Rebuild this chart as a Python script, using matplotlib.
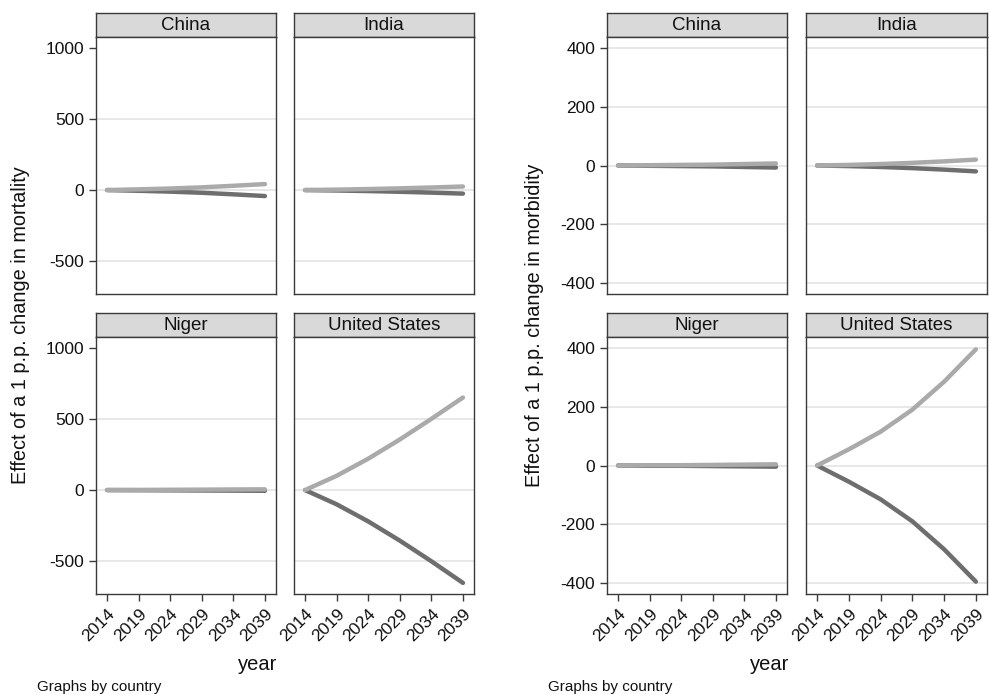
import matplotlib
matplotlib.use("Agg")
from matplotlib import pyplot as plt

plt.rcParams["font.family"] = ["Liberation Sans", "DejaVu Sans"]

W, H = 991, 695

years = [2014, 2019, 2024, 2029, 2034, 2039]
countries = ["China", "India", "Niger", "United States"]

# effect of a 1 p.p. change in mortality (upper = light, lower = dark)
mort_up = {
    "China": [0, 5, 11, 19, 30, 42],
    "India": [0, 3, 7, 12, 18, 25],
    "Niger": [0, 1, 2, 3, 4, 5],
    "United States": [0, 100, 220, 355, 500, 650],
}
mort_down = {
    "China": [0, -5, -11, -19, -30, -42],
    "India": [0, -3, -7, -12, -18, -25],
    "Niger": [0, -1, -2, -3, -4, -5],
    "United States": [0, -100, -220, -355, -500, -652],
}

# effect of a 1 p.p. change in morbidity
morb_up = {
    "China": [0, 1, 2, 3, 5, 7],
    "India": [0, 2, 5, 9, 14, 20],
    "Niger": [0, 1, 1, 2, 3, 4],
    "United States": [0, 55, 115, 190, 285, 395],
}
morb_down = {
    "China": [0, -1, -2, -3, -5, -7],
    "India": [0, -2, -5, -9, -14, -20],
    "Niger": [0, -1, -1, -2, -3, -4],
    "United States": [0, -55, -115, -190, -285, -395],
}

LIGHT = "#aaaaaa"
DARK = "#6e6e6e"
EDGE = "#3a3a3a"
GRID = "#e4e4e4"


def px_axes(fig, x0, y0, x1, y1):
    return fig.add_axes([x0 / W, 1 - y1 / H, (x1 - x0) / W, (y1 - y0) / H])


def draw_group(fig, cols, up, down, ylim, yticks, grid_vals, ylabel, label_x, year_x, note_x):
    rows = [(13, 37, 294), (313, 337, 594)]
    for i, country in enumerate(countries):
        r, c = divmod(i, 2)
        htop, ptop, pbot = rows[r]
        x0, x1 = cols[c]

        hdr = px_axes(fig, x0, htop, x1, ptop)
        hdr.set_facecolor("#d9d9d9")
        hdr.set_xticks([])
        hdr.set_yticks([])
        for s in hdr.spines.values():
            s.set_color(EDGE)
            s.set_linewidth(1.0)
        hdr.text(0.5, 0.47, country, ha="center", va="center", fontsize=13.5,
                 color="#111111", transform=hdr.transAxes)

        ax = px_axes(fig, x0, ptop, x1, pbot)
        for g in grid_vals:
            ax.axhline(g, color=GRID, lw=1.2, zorder=0)
        ax.plot(years, down[country], color=DARK, lw=3.2, solid_capstyle="round", zorder=2)
        ax.plot(years, up[country], color=LIGHT, lw=3.2, solid_capstyle="round", zorder=3)
        ax.set_xlim(2012.25, 2040.75)
        ax.set_ylim(*ylim)
        for s in ax.spines.values():
            s.set_color(EDGE)
            s.set_linewidth(1.0)
        ax.tick_params(colors=EDGE, labelcolor="#111111", labelsize=12.5,
                       direction="out", length=5, width=1)
        if c == 0:
            ax.set_yticks(yticks)
            ax.set_yticklabels([str(v) for v in yticks])
        else:
            ax.set_yticks([])
        if r == 1:
            ax.set_xticks(years)
            ax.set_xticklabels([str(y) for y in years], rotation=45,
                               ha="right", rotation_mode="anchor")
        else:
            ax.set_xticks([])

    fig.text(label_x / W, 1 - 325 / H, ylabel, rotation=90, ha="center", va="center",
             fontsize=14.3, color="#111111")
    fig.text(year_x / W, 1 - 664 / H, "year", ha="center", va="center",
             fontsize=14.5, color="#111111")
    fig.text(note_x / W, 1 - 687 / H, "Graphs by country", ha="left", va="center",
             fontsize=11, color="#111111")


fig = plt.figure(figsize=(W / 100, H / 100), dpi=100)
fig.patch.set_facecolor("white")

draw_group(fig, [(96, 276), (294, 474)], mort_up, mort_down,
           (-730, 1075), [-500, 0, 500, 1000], [-500, 0, 500],
           "Effect of a 1 p.p. change in mortality", 21, 258, 37)
draw_group(fig, [(607, 787), (806, 987)], morb_up, morb_down,
           (-437, 437), [-400, -200, 0, 200, 400], [-400, -200, 0, 200, 400],
           "Effect of a 1 p.p. change in morbidity", 534, 770, 548)

fig.savefig("out.png", dpi=100, facecolor="white")
